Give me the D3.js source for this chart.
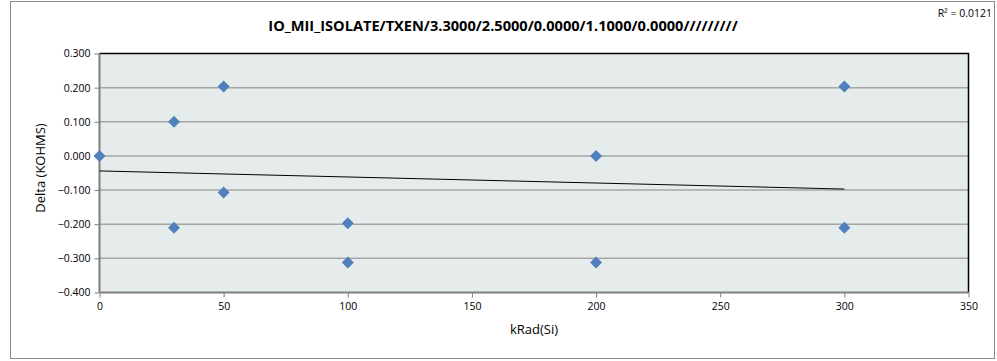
<!DOCTYPE html>
<html><head><meta charset="utf-8">
<script src="https://cdn.jsdelivr.net/npm/d3@7"></script>
<style>body{margin:0;background:#fff}svg{display:block}text{font-family:"Open Sans","Liberation Sans",sans-serif}</style>
</head><body>
<svg id="c" width="997" height="361"></svg>
<script>
const title = "IO_MII_ISOLATE/TXEN/3.3000/2.5000/0.0000/1.1000/0.0000/////////";
const xLabel = "kRad(Si)";
const yLabel = "Delta (KOHMS)";
const r2Label = "R² = 0.0121";
const xValues = [0, 30, 30, 50, 50, 100, 100, 200, 200, 300, 300];
const yValues = [0.000, 0.100, -0.210, 0.203, -0.107, -0.197, -0.312, 0.000, -0.312, 0.203, -0.210];
const trendX = [0, 300];
const trendY = [-0.044, -0.097];
const xTicks = [0, 50, 100, 150, 200, 250, 300, 350];
const yTicks = [-0.4, -0.3, -0.2, -0.1, 0, 0.1, 0.2, 0.3];

const svg = d3.select("#c");
const L = 99.5, R = 968.5, T = 53.5, B = 292.5;
const x = d3.scaleLinear().domain([0, 350]).range([L, R]);
const y = d3.scaleLinear().domain([-0.4, 0.3]).range([B, T]);

svg.append("rect").attr("x", 10.5).attr("y", 1.5).attr("width", 984).attr("height", 357)
  .attr("fill", "#fff").attr("stroke", "#8c8c8c").attr("stroke-width", 1);

svg.append("rect").attr("x", L).attr("y", T).attr("width", R - L).attr("height", B - T)
  .attr("fill", "#e6ecec");

svg.append("g").selectAll("line").data(yTicks.filter(d => d > -0.4 && d < 0.3)).join("line")
  .attr("x1", L).attr("x2", R).attr("y1", d => y(d)).attr("y2", d => y(d))
  .attr("stroke", "#a6a6a6").attr("stroke-width", 1.5);

svg.append("path").attr("d", `M${L},${T}H${R}V${B}`).attr("fill", "none")
  .attr("stroke", "#000").attr("stroke-width", 1.5);

const yAxis = d3.axisLeft(y).tickValues(yTicks).tickFormat(d3.format(".3f")).tickSize(5).tickPadding(4);
const gy = svg.append("g").attr("transform", `translate(${L},0)`).call(yAxis);
const xAxis = d3.axisBottom(x).tickValues(xTicks).tickFormat(d3.format("d")).tickSize(5).tickPadding(5);
const gx = svg.append("g").attr("transform", `translate(0,${B})`).call(xAxis);
[gy, gx].forEach(g => {
  g.select(".domain").attr("stroke", "#7f7f7f").attr("stroke-width", 2);
  g.selectAll(".tick line").attr("stroke", "#7f7f7f");
  g.selectAll(".tick text").attr("fill", "#000").style("font-size", "10.5px");
});
gy.select(".domain").attr("d", `M0,${T}V${B}`);
gx.select(".domain").attr("d", `M${L},0H${R}`);

svg.append("line")
  .attr("x1", x(trendX[0])).attr("y1", y(trendY[0]))
  .attr("x2", x(trendX[1])).attr("y2", y(trendY[1]))
  .attr("stroke", "#000").attr("stroke-width", 1);

const h = 6;
svg.append("g").selectAll("path").data(xValues.map((d, i) => [d, yValues[i]])).join("path")
  .attr("d", d => `M${x(d[0])},${y(d[1]) - h}L${x(d[0]) + h},${y(d[1])}L${x(d[0])},${y(d[1]) + h}L${x(d[0]) - h},${y(d[1])}Z`)
  .attr("fill", "#4f81bd");

svg.append("text").attr("x", 503).attr("y", 31).attr("text-anchor", "middle")
  .style("font-size", "14.6px").style("font-weight", "bold").text(title);
svg.append("text").attr("x", 992).attr("y", 17).attr("text-anchor", "end")
  .style("font-size", "10.5px").text(r2Label);
svg.append("text").attr("x", (L + R) / 2).attr("y", 334).attr("text-anchor", "middle")
  .style("font-size", "13px").text(xLabel);
svg.append("text").attr("transform", `translate(45,${(T + B) / 2 - 5}) rotate(-90)`).attr("text-anchor", "middle")
  .style("font-size", "13px").text(yLabel);
</script>
</body></html>
